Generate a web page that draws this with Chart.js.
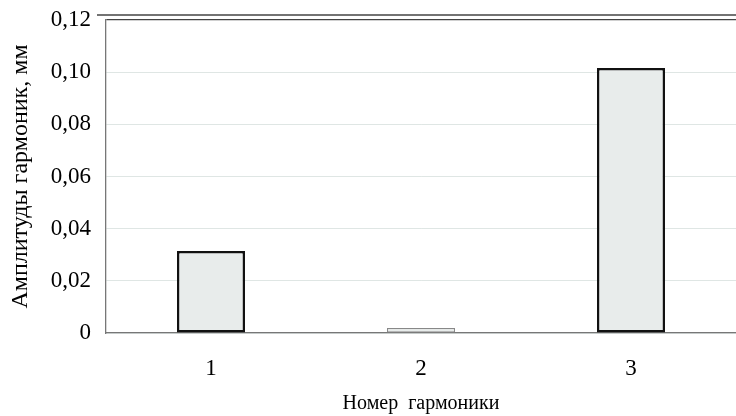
<!DOCTYPE html>
<html>
<head>
<meta charset="utf-8">
<script src="https://cdn.jsdelivr.net/npm/chart.js@4/dist/chart.umd.min.js"></script>
<style>
    html, body { margin: 0; padding: 0; background: #fff; }
    #wrap { width: 736px; height: 416px; position: relative; }
</style>
</head>
<body>
<div id="wrap"><canvas id="harmonics-chart"></canvas></div>
<script>
// Harmonic amplitudes
const harmonics = ['1', '2', '3'];
const amplitudes = [0.0314, 0.0019, 0.1016];
const yMax = 0.12;
const yStep = 0.02;

// Double line over the plot, like in the original figure
const topFramePlugin = {
    id: 'topFrame',
    afterDraw(chart) {
        const { ctx, chartArea } = chart;
        ctx.save();
        ctx.strokeStyle = '#444';
        ctx.lineWidth = 1.3;
        ctx.beginPath();
        ctx.moveTo(chartArea.left - 9, chartArea.top - 5);
        ctx.lineTo(chartArea.right, chartArea.top - 5);
        ctx.stroke();
        ctx.restore();
    }
};

document.addEventListener('DOMContentLoaded', function() {
    const serif = 'Liberation Serif, Times New Roman, serif';
    const ctx = document.getElementById('harmonics-chart').getContext('2d');

    new Chart(ctx, {
        type: 'bar',
        data: {
            labels: harmonics,
            datasets: [{
                data: amplitudes,
                backgroundColor: '#e8eceb',
                borderColor: ['#111', '#888', '#111'],
                borderWidth: [2.5, 1.2, 2.5],
                borderSkipped: false,
                categoryPercentage: 1,
                barPercentage: 0.324
            }]
        },
        options: {
            responsive: true,
            maintainAspectRatio: false,
            animation: false,
            layout: { padding: { top: 20, right: 0, left: 0, bottom: 0 } },
            plugins: {
                legend: { display: false },
                tooltip: { enabled: false }
            },
            scales: {
                x: {
                    grid: { display: false },
                    border: { color: '#777', width: 1.3 },
                    ticks: {
                        color: '#000',
                        padding: 14,
                        font: { family: serif, size: 23 }
                    },
                    title: {
                        display: true,
                        text: 'Номер  гармоники',
                        color: '#000',
                        padding: { top: 0, bottom: 0 },
                        font: { family: serif, size: 20 }
                    },
                    afterFit: function(scale) {
                        scale.height = 83;
                        scale.paddingLeft = 0;
                        scale.paddingRight = 0;
                    }
                },
                y: {
                    min: 0,
                    max: yMax,
                    ticks: {
                        stepSize: yStep,
                        color: '#000',
                        padding: 15,
                        font: { family: serif, size: 23 },
                        callback: function(v) {
                            return v === 0 ? '0' : v.toFixed(2).replace('.', ',');
                        }
                    },
                    grid: {
                        drawTicks: false,
                        lineWidth: function(c) { return c.tick && Math.abs(c.tick.value - yMax) < 1e-9 ? 1.3 : 1; },
                        color: function(c) {
                            return c.tick && Math.abs(c.tick.value - yMax) < 1e-9 ? '#444' : '#dfe6e4';
                        }
                    },
                    border: { color: '#777', width: 1.3 },
                    title: {
                        display: true,
                        text: 'Амплитуды гармоник, мм',
                        color: '#000',
                        padding: { top: 6, bottom: 0 },
                        font: { family: serif, size: 24 }
                    },
                    afterFit: function(scale) {
                        scale.width = 106;
                        scale.paddingTop = 0;
                        scale.paddingBottom = 0;
                    }
                }
            }
        },
        plugins: [topFramePlugin]
    });
});
</script>
</body>
</html>
